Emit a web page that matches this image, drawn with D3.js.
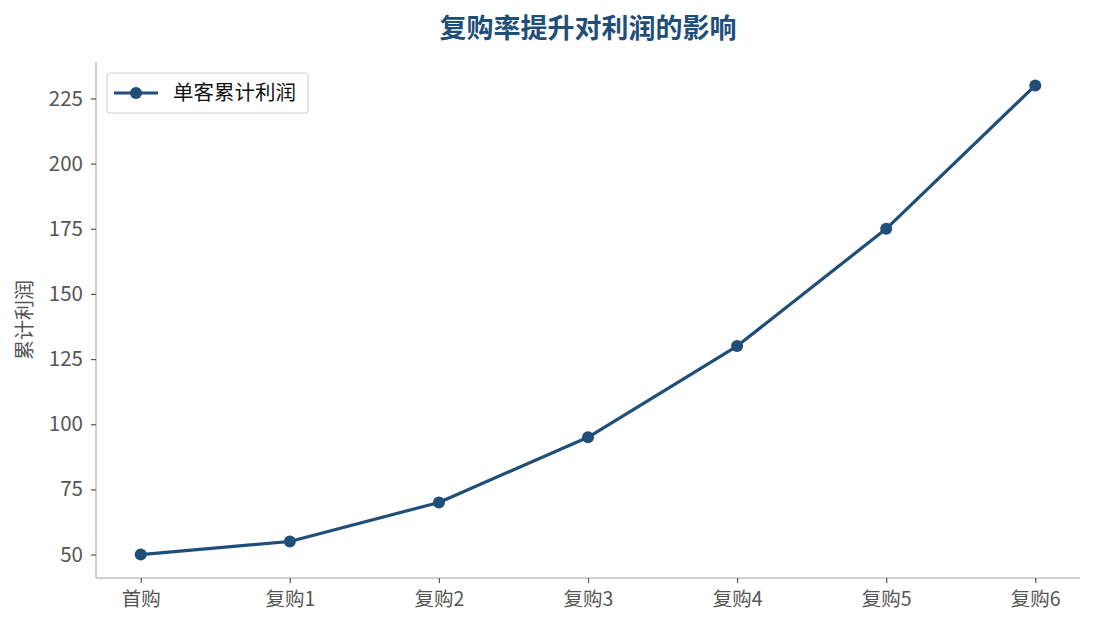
<!DOCTYPE html>
<html>
<head>
<meta charset="utf-8">
<script src="https://cdn.jsdelivr.net/npm/d3@7"></script>
<style>
  body { margin: 0; background: #fff; }
  svg { display: block; font-family: "Noto Sans CJK SC", "Noto Sans", sans-serif; }
</style>
</head>
<body>
<svg id="chart"></svg>
<script>
const categories = ['首购', '复购1', '复购2', '复购3', '复购4', '复购5', '复购6'];
const profit = [50, 55, 70, 95, 130, 175, 230];
const yTicks = [50, 75, 100, 125, 150, 175, 200, 225];

const chart_width = 1095;
const chart_height = 630;
const margin = { top: 62, right: 15, bottom: 52, left: 96 };
const lineColor = '#1f4e79';
const spineColor = '#c0c0c0';
const textColor = '#555555';

const svg = d3.select('#chart')
    .attr('width', chart_width)
    .attr('height', chart_height);

const plotW = chart_width - margin.left - margin.right;
const plotH = chart_height - margin.top - margin.bottom;

// matplotlib-like 5% padding on both axes
const nSteps = categories.length - 1;
const step = plotW / (nSteps + 0.6);
const x_scale = d3.scalePoint()
    .domain(categories)
    .range([margin.left + 0.3 * step, margin.left + 0.3 * step + nSteps * step])
    .padding(0);

const yMin = d3.min(profit), yMax = d3.max(profit);
const yPad = (yMax - yMin) * 0.05;
const y_scale = d3.scaleLinear()
    .domain([yMin - yPad, yMax + yPad])
    .range([chart_height - margin.bottom, margin.top]);

// axes
const x_axis = d3.axisBottom(x_scale).tickSize(5).tickPadding(9);
const gx = svg.append('g')
    .attr('transform', 'translate(0,' + (chart_height - margin.bottom) + ')')
    .call(x_axis);
gx.select('.domain').attr('d', 'M' + margin.left + ',0H' + (chart_width - margin.right))
    .attr('stroke', spineColor).attr('stroke-width', 1.5);

const y_axis = d3.axisLeft(y_scale).tickValues(yTicks).tickSize(5).tickPadding(8);
const gy = svg.append('g')
    .attr('transform', 'translate(' + margin.left + ',0)')
    .call(y_axis);
gy.select('.domain').attr('d', 'M0,' + margin.top + 'V' + (chart_height - margin.bottom))
    .attr('stroke', spineColor).attr('stroke-width', 1.5);

[gx, gy].forEach(g => {
    g.selectAll('.tick line').attr('stroke', textColor).attr('stroke-width', 1.2);
    g.selectAll('.tick text')
        .attr('fill', textColor)
        .attr('font-size', '19.5px')
        .attr('font-family', '"Noto Sans CJK SC", sans-serif');
});
gy.selectAll('.tick text').attr('font-size', '20.5px');

// y axis label
svg.append('text')
    .attr('transform', 'translate(32,' + (margin.top + plotH / 2) + ') rotate(-90)')
    .attr('text-anchor', 'middle')
    .attr('fill', textColor)
    .attr('font-size', '20px')
    .text('累计利润');

// title
svg.append('text')
    .attr('x', margin.left + plotW / 2)
    .attr('y', 38)
    .attr('text-anchor', 'middle')
    .attr('fill', lineColor)
    .attr('font-size', '27px')
    .attr('font-weight', 'bold')
    .text('复购率提升对利润的影响');

// line
const lineFunc = d3.line()
    .x((d, i) => x_scale(categories[i]))
    .y(d => y_scale(d));

svg.append('path')
    .datum(profit)
    .attr('fill', 'none')
    .attr('stroke', lineColor)
    .attr('stroke-width', 3.2)
    .attr('stroke-linejoin', 'round')
    .attr('d', lineFunc);

svg.selectAll('.pt')
    .data(profit)
    .enter()
    .append('circle')
    .attr('class', 'pt')
    .attr('cx', (d, i) => x_scale(categories[i]))
    .attr('cy', d => y_scale(d))
    .attr('r', 6)
    .attr('fill', lineColor);

// legend
const legend = svg.append('g')
    .attr('transform', 'translate(107,73)');
legend.append('rect')
    .attr('width', 201)
    .attr('height', 40)
    .attr('rx', 3)
    .attr('fill', '#fff')
    .attr('stroke', '#d4d4d4')
    .attr('stroke-width', 1.2);
legend.append('line')
    .attr('x1', 7).attr('x2', 51)
    .attr('y1', 20).attr('y2', 20)
    .attr('stroke', lineColor)
    .attr('stroke-width', 3.2);
legend.append('circle')
    .attr('cx', 29).attr('cy', 20).attr('r', 6)
    .attr('fill', lineColor);
legend.append('text')
    .attr('x', 66).attr('y', 27)
    .attr('fill', '#111')
    .attr('font-size', '20.5px')
    .text('单客累计利润');
</script>
</body>
</html>
